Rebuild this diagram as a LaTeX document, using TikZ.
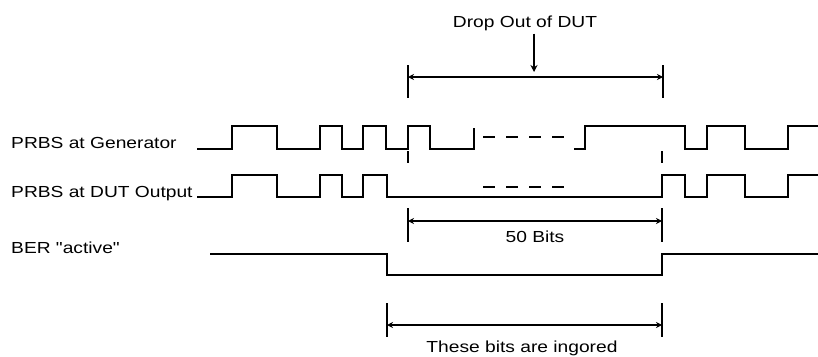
\documentclass[tikz,border=0pt]{standalone}
\usepackage{fontspec}
\setmainfont{Liberation Sans}
\newfontfamily\diafont[FakeStretch=1.2]{Liberation Sans}
\usetikzlibrary{arrows.meta}
\begin{document}
\begin{tikzpicture}[x=1pt,y=-1pt,
  every node/.style={font=\diafont\fontsize{16}{19}\selectfont, inner sep=0pt},
  wave/.style={line width=1.3pt, line join=miter},
  tick/.style={line width=1.3pt},
  dimline/.style={line width=1.1pt, {Stealth[length=6pt,width=6pt]}-{Stealth[length=6pt,width=6pt]}},
  gap/.style={line width=1.3pt, dash pattern=on 12pt off 11pt}]
\useasboundingbox (0,0) rectangle (818,356);

% labels
\node[anchor=base west] (lgen) at (11,148) {PRBS at Generator};
\node[anchor=base west] (ldut) at (11,197) {PRBS at DUT Output};
\node[anchor=base west] (lber) at (11,253) {BER "active"};
\node[anchor=base] (drop) at (525,27) {Drop Out of DUT};
\node[anchor=base] (bits) at (535,242) {50 Bits};
\node[anchor=base] (ign) at (522,352) {These bits are ingored};

% generator waveform
\draw[wave] (197,149) -- (232,149) -- (232,126) -- (277,126) -- (277,149) -- (320,149) -- (320,126) -- (342,126) -- (342,149) -- (363,149) -- (363,126) -- (386,126) -- (386,149) -- (408,149) -- (408,126) -- (430,126) -- (430,149) -- (474,149) -- (474,128);
\draw[gap] (483,137) -- (564,137);
\draw[wave] (574,149) -- (585,149) -- (585,126) -- (685,126) -- (685,149) -- (707,149) -- (707,126) -- (745,126) -- (745,149) -- (788,149) -- (788,126) -- (818,126);
\draw[tick] (408,151) -- (408,163);
\draw[tick] (662,151) -- (662,163);

% DUT output waveform
\draw[wave] (197,197) -- (232,197) -- (232,175) -- (277,175) -- (277,197) -- (320,197) -- (320,175) -- (342,175) -- (342,197) -- (363,197) -- (363,175) -- (387,175) -- (387,197) -- (662,197) -- (662,175) -- (685,175) -- (685,197) -- (707,197) -- (707,175) -- (745,175) -- (745,197) -- (788,197) -- (788,175) -- (818,175);
\draw[gap] (483,187) -- (564,187);

% BER active
\draw[wave] (210,254) -- (387,254) -- (387,275) -- (662,275) -- (662,254) -- (818,254);

% top dimension
\coordinate (t1) at (408,77);
\coordinate (t2) at (663,77);
\coordinate (tdown) at (534,72);
\draw[tick] (408,65) -- (408,98);
\draw[tick] (663,65) -- (663,98);
\draw[dimline] (t1) -- (t2);
\draw[line width=1.1pt, -{Stealth[length=7pt,width=7pt]}] (drop.south -| tdown) ++(0,3) -- (tdown);

% 50 bits dimension
\coordinate (b1) at (408,221);
\coordinate (b2) at (662,221);
\draw[tick] (408,208) -- (408,242);
\draw[tick] (662,208) -- (662,242);
\draw[dimline] (b1) -- (b2);

% ignored bits dimension
\coordinate (i1) at (387,325);
\coordinate (i2) at (662,325);
\draw[tick] (387,303) -- (387,337);
\draw[tick] (662,303) -- (662,337);
\draw[dimline] (i1) -- (i2);
\end{tikzpicture}
\end{document}
